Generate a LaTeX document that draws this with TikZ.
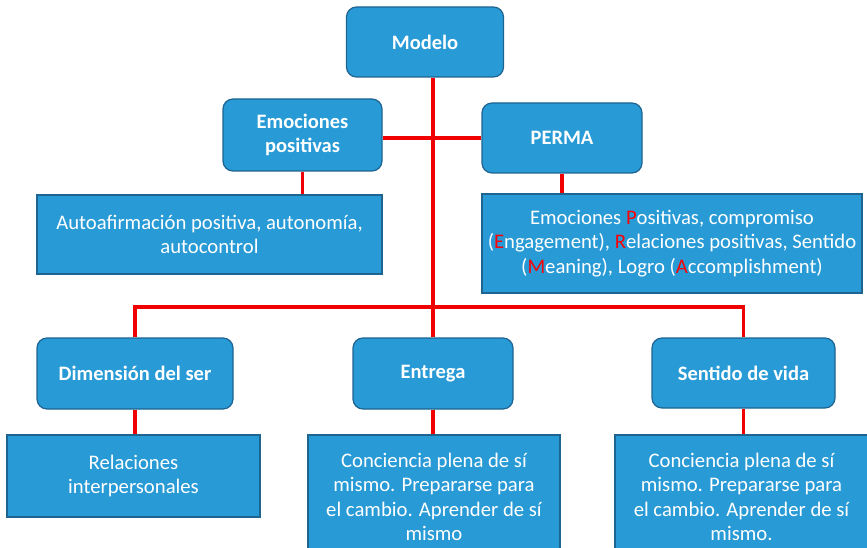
\documentclass[tikz,border=0pt]{standalone}
\usepackage{fontspec}
\setmainfont{Carlito}
\usetikzlibrary{positioning}

\definecolor{cajaazul}{RGB}{40,154,214}
\definecolor{bordeazul}{RGB}{30,100,145}
\definecolor{rojolinea}{RGB}{240,0,0}

\tikzset{
  titulo/.style={draw=bordeazul,line width=1.2pt,fill=cajaazul,rounded corners=10pt,
    text=white,font=\fontsize{20.5}{24}\selectfont\bfseries,align=center},
  texto/.style={draw=bordeazul,line width=1.2pt,fill=cajaazul,
    text=white,font=\fontsize{20.7}{24.5}\selectfont,align=center},
  conector/.style={rojolinea,line width=3.5pt}
}
\newcommand{\rj}[1]{\textcolor{red}{#1}}

\begin{document}
\begin{tikzpicture}[x=1pt,y=-1pt]
\clip (0,0) rectangle (867,548);
\useasboundingbox (0,0) rectangle (867,548);

% nivel superior
\node (modelo) [titulo,minimum width=157pt,minimum height=70pt] at (425,42) {Modelo};
\node (emo) [titulo,minimum width=159pt,minimum height=72pt] at (302.5,135) {Emociones\\positivas};
\node (perma) [titulo,minimum width=160pt,minimum height=70pt] at (562,138) {PERMA};

\node (autoafirm) [texto,minimum width=345pt,minimum height=79pt] at (209.5,234.5)
  {Autoafirmación positiva, autonomía,\\autocontrol};
\node (permatext) [texto,minimum width=380pt,minimum height=99pt] at (672,243.5)
  {Emociones \rj{P}ositivas, compromiso\\(\rj{E}ngagement), \rj{R}elaciones positivas, Sentido\\(\rj{M}eaning), Logro (\rj{A}ccomplishment)};

% nivel inferior
\node (dimension) [titulo,minimum width=196pt,minimum height=71pt] at (135,373.5) {Dimensión del ser};
\node (entrega) [titulo,minimum width=160pt,minimum height=71pt] at (433,373.5) {Entrega};
\node (sentido) [titulo,minimum width=183pt,minimum height=70pt] at (743.5,373) {Sentido de vida};

\node (reltext) [texto,minimum width=253pt,minimum height=82pt] at (133.5,476)
  {Relaciones\\interpersonales};
\node (entregatext) [texto,minimum width=252pt,minimum height=124pt] at (434,497)
  {Conciencia plena de sí\\mismo. Prepararse para\\el cambio. Aprender de sí\\mismo};
\node (sentidotext) [texto,minimum width=253pt,minimum height=124pt] at (741.5,497)
  {Conciencia plena de sí\\mismo. Prepararse para\\el cambio. Aprender de sí\\mismo.};

% conectores
\coordinate (barra) at (433,307);
\draw[conector] (entrega.north |- modelo.south) -- (entrega.north);
\draw[conector] (perma.west -| emo.east) -- (perma.west);
\draw[conector] (emo.south) -- (emo.south |- autoafirm.north);
\draw[conector] (perma.south) -- (perma.south |- permatext.north);
\draw[conector] (dimension.north) |- (barra) -| (sentido.north);
\draw[conector] (dimension.south) -- (dimension.south |- reltext.north);
\draw[conector] (entrega.south) -- (entrega.south |- entregatext.north);
\draw[conector] (sentido.south) -- (sentido.south |- sentidotext.north);

\end{tikzpicture}
\end{document}
